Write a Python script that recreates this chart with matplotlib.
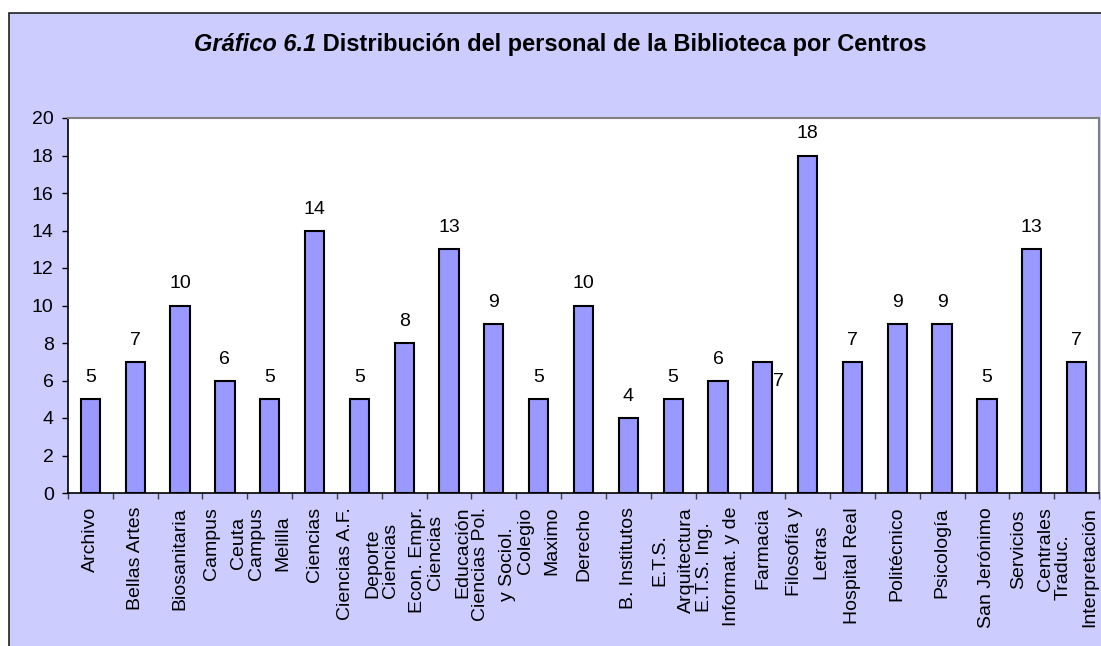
import matplotlib
matplotlib.use("Agg")
import matplotlib.pyplot as plt
from matplotlib.patches import Rectangle
from matplotlib.ticker import FixedLocator

plt.rcParams['font.family'] = ['Liberation Sans', 'DejaVu Sans']

categories = [
    "Archivo", "Bellas Artes", "Biosanitaria", "Campus\nCeuta", "Campus\nMelilla",
    "Ciencias", "Ciencias A.F.\nDeporte", "Ciencias\nEcon. Empr.", "Ciencias\nEducación",
    "Ciencias Pol.\ny Sociol.", "Colegio\nMaximo", "Derecho", "B. Institutos",
    "E.T.S.\nArquitectura", "E.T.S. Ing.\nInformat. y de", "Farmacia",
    "Filosofía y\nLetras", "Hospital Real", "Politécnico", "Psicología",
    "San Jerónimo", "Servicios\nCentrales", "Traduc.\nInterpretación",
]
values = [5, 7, 10, 6, 5, 14, 5, 8, 13, 9, 5, 10, 4, 5, 6, 7, 18, 7, 9, 9, 5, 13, 7]
yticks = [0, 2, 4, 6, 8, 10, 12, 14, 16, 18, 20]
title_italic = "Gráfico 6.1"
title_rest = " Distribución del personal de la Biblioteca por Centros"

W, H, DPI = 1101, 646, 100
fig = plt.figure(figsize=(W / DPI, H / DPI), dpi=DPI)
fig.patch.set_facecolor('white')

# chart-area frame
frame = Rectangle((9 / W, -0.05), 1.2, (H - 13) / H + 0.05, transform=fig.transFigure,
                  facecolor='#CCCCFF', edgecolor='#202020', linewidth=1.2, zorder=-10)
fig.patches.append(frame)

ax = fig.add_axes([68 / W, 1 - 493 / H, (1099 - 68) / W, (493 - 118) / H])
ax.set_zorder(1)
ax.set_facecolor('white')
n = len(values)
x = list(range(n))
bars = ax.bar(x, values, width=0.43, color='#9999FF', edgecolor='black', linewidth=1.5, zorder=3)

ax.set_xlim(-0.5, n - 0.5)
ax.set_ylim(0, 20)
ax.set_yticks(yticks)
ax.tick_params(axis='y', length=6 * 72 / DPI, width=1, pad=6, labelsize=14, direction='out')

ax.set_xticks(x)
ax.set_xticklabels(categories, rotation=90, fontsize=14, linespacing=1.75,
                   multialignment='center')
ax.tick_params(axis='x', which='major', length=0, pad=10)
ax.xaxis.set_minor_locator(FixedLocator([i - 0.5 for i in range(n + 1)]))
ax.tick_params(axis='x', which='minor', length=6 * 72 / DPI, width=1, color='#404040')

for s in ['left', 'bottom']:
    ax.spines[s].set_color('black')
    ax.spines[s].set_linewidth(1.2)
for s in ['top', 'right']:
    ax.spines[s].set_color('#808080')
    ax.spines[s].set_linewidth(1.5)

# value labels
for i, (b, v) in enumerate(zip(bars, values)):
    cx = b.get_x() + b.get_width() / 2
    if categories[i] == "Farmacia":
        ax.annotate(str(v), (cx, v), xytext=(16 * 72 / DPI, -24 * 72 / DPI),
                    textcoords='offset points', ha='center', va='baseline', fontsize=14)
    else:
        ax.annotate(str(v), (cx, v), xytext=(0, 17 * 72 / DPI),
                    textcoords='offset points', ha='center', va='baseline', fontsize=14)

# title: italic-bold part + bold part, centred together
renderer = fig.canvas.get_renderer()
t1 = fig.text(0, 1 - 51 / H, title_italic, fontsize=17, fontweight='bold', fontstyle='italic',
              ha='left', va='baseline')
t2 = fig.text(0, 1 - 51 / H, title_rest, fontsize=17, fontweight='bold',
              ha='left', va='baseline')
w1 = t1.get_window_extent(renderer).width
w2 = t2.get_window_extent(renderer).width
cx = 560
start = cx - (w1 + w2) / 2
t1.set_x(start / W)
t2.set_x((start + w1) / W)

fig.savefig("out.png", dpi=DPI)
